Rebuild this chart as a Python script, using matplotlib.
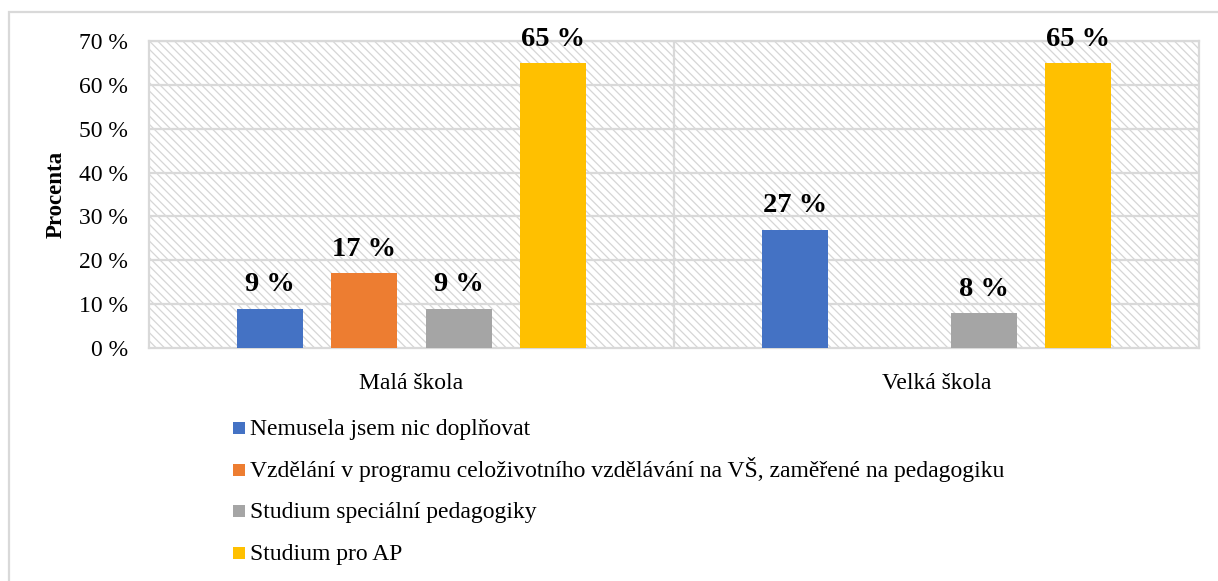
import numpy as np
import matplotlib.pyplot as plt
from matplotlib.patches import Rectangle

plt.rcParams['font.family'] = ['Liberation Serif', 'DejaVu Serif']
plt.rcParams['hatch.linewidth'] = 0.9

# data
categories = ['Malá škola', 'Velká škola']
series_names = ['Nemusela jsem nic doplňovat',
                'Vzdělání v programu celoživotního vzdělávání na VŠ, zaměřené na pedagogiku',
                'Studium speciální pedagogiky',
                'Studium pro AP']
values = [[9, 27],
          [17, 0],
          [9, 8],
          [65, 65]]
colors = ['#4472C4', '#ED7D31', '#A5A5A5', '#FFC000']
yticks = [0, 10, 20, 30, 40, 50, 60, 70]

grid_col = '#d9d9d9'

fig = plt.figure(figsize=(12.18, 5.81), dpi=100)
ax = fig.add_axes([149/1218, 1-348/581, 1050/1218, 307/581])

# hatched background
bg = Rectangle((0, 0), 1, 1, transform=ax.transAxes, facecolor='white',
               edgecolor='#d6d6d6', hatch='\\\\\\\\', lw=0, zorder=0)
ax.add_patch(bg)

x = np.arange(len(categories))
step = 0.1796
width = 0.1257
for i, (name, vals) in enumerate(zip(series_names, values)):
    pos = x + (i - 1.5) * step
    ax.bar(pos, vals, width, color=colors[i], label=name, zorder=3)
    for p, v in zip(pos, vals):
        if v > 0:
            ax.text(p, v + 2.6, f'{v} %', ha='center', va='bottom',
                    fontsize=20.5, fontweight='bold', zorder=4)

ax.set_xlim(-0.5, 1.5)
ax.set_ylim(0, 70)
ax.set_yticks(yticks)
ax.set_yticklabels([f'{t} %' for t in yticks], fontsize=17)
ax.set_xticks(x)
ax.set_xticklabels(categories, fontsize=17)
ax.tick_params(length=0)
ax.tick_params(axis='y', pad=15)
ax.tick_params(axis='x', pad=18)
ax.set_ylabel('Procenta', fontsize=16.5, fontweight='bold')
ax.yaxis.set_label_coords(-0.078, 0.5)

for yv in yticks[1:]:
    ax.axhline(yv, color=grid_col, lw=1.6, zorder=1)
ax.axvline(0.5, color=grid_col, lw=1.6, zorder=1)
for s in ax.spines.values():
    s.set_color(grid_col)
    s.set_linewidth(1.6)

# legend below the plot, one row every ~42 px
for i, name in enumerate(series_names):
    yc = 428 + 41.7 * i
    fig.add_artist(Rectangle((233/1218, 1 - (yc + 6)/581), 12/1218, 12/581,
                             transform=fig.transFigure, facecolor=colors[i], lw=0))
    fig.text(250/1218, 1 - (yc + 7)/581, name, fontsize=17, va='baseline', ha='left')

# outer frame
fig.add_artist(Rectangle((9/1218, -0.05), 1.1, 1-12/581+0.05,
                         transform=fig.transFigure, fill=False,
                         edgecolor=grid_col, lw=1.6))

fig.savefig('out.png', dpi=100)
